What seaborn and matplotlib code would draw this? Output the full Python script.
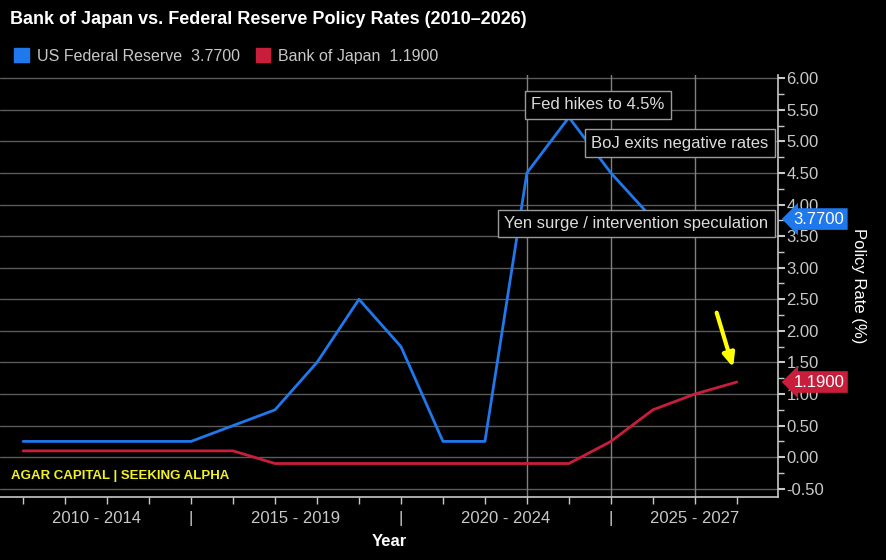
import numpy as np
import pandas as pd
import matplotlib
matplotlib.use("Agg")
import matplotlib.pyplot as plt
import matplotlib.transforms as mtransforms
from matplotlib.patches import Patch
from matplotlib.ticker import MultipleLocator, FormatStrFormatter
import seaborn as sns

# ---------------- data ----------------
years = [2010, 2011, 2012, 2013, 2014, 2015, 2016, 2017, 2018,
         2019, 2020, 2021, 2022, 2023, 2024, 2025, 2026, 2027]
fed_rate = [0.25, 0.25, 0.25, 0.25, 0.25, 0.50, 0.75, 1.50, 2.50,
            1.75, 0.25, 0.25, 4.50, 5.38, 4.50, 3.77, 3.77, 3.77]
boj_rate = [0.10, 0.10, 0.10, 0.10, 0.10, 0.10, -0.10, -0.10, -0.10,
            -0.10, -0.10, -0.10, -0.10, -0.10, 0.25, 0.75, 1.00, 1.19]
series_names = ["US Federal Reserve", "Bank of Japan"]
last_values = [3.77, 1.19]
period_labels = ["2010 - 2014", "|", "2015 - 2019", "|", "2020 - 2024", "|", "2025 - 2027"]
period_pos = [2011.75, 2014, 2016.5, 2019, 2021.5, 2024, 2026]
event_labels = ["Fed hikes to 4.5%", "BoJ exits negative rates",
                "Yen surge / intervention speculation"]

BLUE = "#1f78ec"
RED = "#c81e3c"
GREY = "#c8c8c8"

df = pd.DataFrame({
    "Year": years * 2,
    "Rate": fed_rate + boj_rate,
    "Bank": [series_names[0]] * len(years) + [series_names[1]] * len(years),
})

# ---------------- style ----------------
sns.set_style("dark")
plt.rcParams["font.family"] = ["Liberation Sans", "DejaVu Sans"]
plt.rcParams["axes.facecolor"] = "black"
plt.rcParams["figure.facecolor"] = "black"

fig = plt.figure(figsize=(8.87, 5.6), dpi=100)
ax = fig.add_axes([0.0, 63 / 560, 778 / 887, (497 - 75) / 560])
ax.set_facecolor("black")

sns.lineplot(data=df, x="Year", y="Rate", hue="Bank",
             palette={series_names[0]: BLUE, series_names[1]: RED},
             linewidth=2, legend=False, ax=ax, zorder=3)

ax.set_xlim(2009.45, 2027.98)
ax.set_ylim(-0.63, 6.05)

# grid
ax.yaxis.set_major_locator(MultipleLocator(0.5))
ax.yaxis.set_minor_locator(MultipleLocator(0.25))
ax.yaxis.set_major_formatter(FormatStrFormatter("%.2f"))
ax.yaxis.grid(True, color="#5a5a5a", lw=1)
ax.xaxis.grid(False)
for xv in [2022, 2024, 2026]:
    ax.axvline(xv, color="#808080", lw=1, zorder=1)

# spines / ticks
for s in ["top", "left"]:
    ax.spines[s].set_visible(False)
for s in ["right", "bottom"]:
    ax.spines[s].set_visible(True)
    ax.spines[s].set_color(GREY)
    ax.spines[s].set_linewidth(1.2)

ax.yaxis.tick_right()
ax.yaxis.set_label_position("right")
ax.tick_params(axis="y", which="major", direction="out", length=5, width=1.5,
               colors=GREY, labelsize=12, pad=1, right=True, left=False)
ax.tick_params(axis="y", which="minor", direction="out", length=4, width=1,
               colors=GREY, right=True, left=False)

ax.set_xticks(years)
ax.set_xticklabels([])
ax.tick_params(axis="x", which="major", direction="out", length=5, width=1,
               colors=GREY, bottom=True)

xtrans = mtransforms.blended_transform_factory(ax.transData, ax.transAxes)
for lab, xp in zip(period_labels, period_pos):
    ax.text(xp, -0.05, lab, transform=xtrans, ha="center", va="center",
            color=GREY, fontsize=12)

ax.set_xlabel("Year", color="white", fontsize=12, fontweight="bold", labelpad=18)
ax.set_ylabel("Policy Rate (%)", color="white", fontsize=12, rotation=270,
              va="center")
ax.yaxis.set_label_coords(1.103, 0.5)

# event boxes
box = dict(boxstyle="square,pad=0.38", fc="black", ec="#9a9a9a", lw=1)
ax.text(2022.1, 5.58, event_labels[0], ha="left", va="center", color="#dcdcdc",
        fontsize=12, bbox=box, zorder=5)
ax.text(2027.75, 4.97, event_labels[1], ha="right", va="center", color="#dcdcdc",
        fontsize=12, bbox=box, zorder=5)
ax.text(2027.75, 3.70, event_labels[2], ha="right", va="center", color="#dcdcdc",
        fontsize=12, bbox=box, zorder=5)

# yellow arrow
ax.annotate("", xy=(2026.93, 1.38), xytext=(2026.5, 2.33),
            arrowprops=dict(arrowstyle="-|>,head_width=0.35,head_length=0.8",
                            color="#ffff00", lw=3), zorder=6)

# last value tags
ytrans = mtransforms.blended_transform_factory(ax.transAxes, ax.transData)
for val, col in zip(last_values, [BLUE, RED]):
    ax.text(1.02, val, f"{val:.4f}", transform=ytrans, ha="left", va="center",
            color="white", fontsize=12, clip_on=False, zorder=7,
            bbox=dict(boxstyle="larrow,pad=0.2", fc=col, ec="none"))

# watermark
ax.text(2009.72, -0.30, "AGAR CAPITAL | SEEKING ALPHA", color="#f2f21e",
        fontsize=9.5, fontweight="bold", ha="left", va="center", zorder=6)

# title + legend
fig.text(10 / 887, 1 - 20 / 560,
         "Bank of Japan vs. Federal Reserve Policy Rates (2010\u20132026)",
         color="white", fontsize=13, fontweight="bold", ha="left", va="center")
handles = [Patch(color=BLUE), Patch(color=RED)]
labels = [f"{n}  {v:.4f}" for n, v in zip(series_names, last_values)]
fig.legend(handles, labels, loc="center left", bbox_to_anchor=(0.0, 1 - 56 / 560),
           ncol=2, frameon=False, handlelength=0.9, handleheight=0.9,
           handletextpad=0.5, columnspacing=1.0, fontsize=11.5, labelcolor=GREY)

fig.savefig("out.png", dpi=100, facecolor="black")
